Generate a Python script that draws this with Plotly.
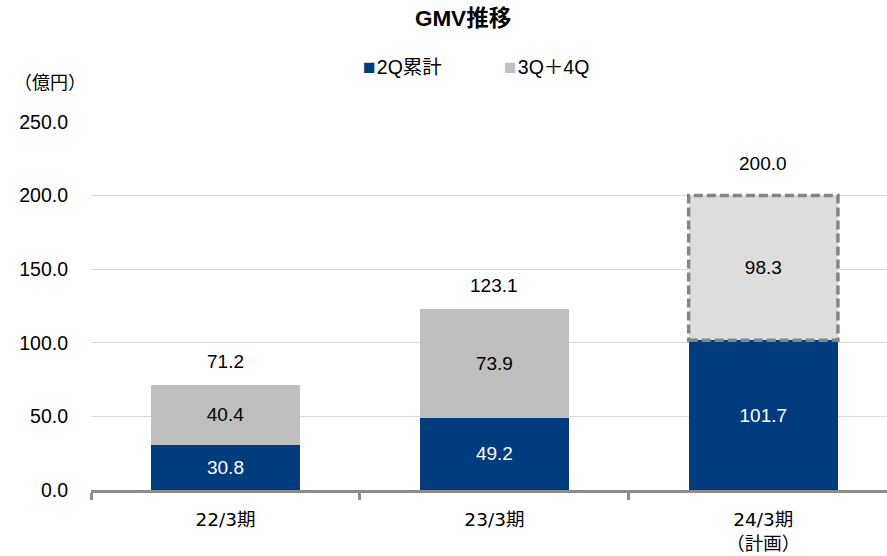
import plotly.graph_objects as go

# GMV by fiscal period (億円)
categories = ["22/3期", "23/3期", "24/3期<br>（計画）"]
first_half = [30.8, 49.2, 101.7]      # 2Q累計
second_half = [40.4, 73.9, 98.3]      # 3Q＋4Q
totals = [71.2, 123.1, 200.0]
y_ticks = [0, 50, 100, 150, 200, 250]
series_names = ["2Q累計", "3Q＋4Q"]

NAVY = "#013C7E"
GRAY = "#BFBFBF"
PLAN_GRAY = "#DDDDDD"
BORDER = "#858585"
FONT = "Liberation Sans, Noto Sans CJK JP, sans-serif"
CAT_FONT = "DejaVu Sans, Noto Sans CJK JP, sans-serif"
BAR_W = 0.555
FS = 19

fig = go.Figure()
fig.add_trace(go.Bar(
    x=categories, y=first_half, name=series_names[0],
    marker=dict(color=NAVY, line=dict(width=0)),
    width=BAR_W, showlegend=False,
    texttemplate="%{y:.1f}", textposition="inside", insidetextanchor="middle",
    textfont=dict(color="white", size=FS, family=FONT),
))
fig.add_trace(go.Bar(
    x=categories, y=second_half, name=series_names[1],
    marker=dict(color=[GRAY, GRAY, PLAN_GRAY], line=dict(width=0)),
    width=BAR_W, showlegend=False,
    texttemplate="%{y:.1f}", textposition="inside", insidetextanchor="middle",
    textfont=dict(color="black", size=FS, family=FONT),
))

# dashed outline around the planned second-half segment
plan = len(categories) - 1
fig.add_shape(
    type="rect", xref="x", yref="y",
    x0=plan - BAR_W / 2, x1=plan + BAR_W / 2,
    y0=first_half[plan], y1=totals[plan],
    line=dict(color=BORDER, width=3.5, dash="9px,4px"),
    fillcolor="rgba(0,0,0,0)", layer="above",
)

# totals above each stack
for i, (c, t) in enumerate(zip(categories, totals)):
    fig.add_annotation(
        x=c, y=t, xref="x", yref="y", text=f"{t:.1f}", showarrow=False,
        yanchor="bottom", yshift=11 if i < plan else 20,
        font=dict(size=FS, color="black", family=FONT),
    )

# unit label
fig.add_annotation(
    x=-0.099, y=1.106, xref="paper", yref="paper", text="（億円）",
    showarrow=False, xanchor="left", yanchor="middle",
    font=dict(size=18, color="black", family=FONT),
)

# legend: colour square followed by series name
legend_items = [(series_names[0], NAVY, 0.339), (series_names[1], GRAY, 0.516)]
for name, color, xpos in legend_items:
    fig.add_annotation(
        x=xpos, y=1.152, xref="paper", yref="paper", showarrow=False,
        xanchor="left", yanchor="middle",
        text=(f"<span style='color:{color};font-size:21px'>■</span>"
              f"<span style='font-size:4px'> </span>{name}"),
        font=dict(size=19.5, color="black", family=FONT),
    )

fig.update_layout(
    width=887, height=556,
    margin=dict(l=91, r=0, t=122, b=66),
    barmode="stack", bargap=0.445,
    paper_bgcolor="white", plot_bgcolor="white",
    font=dict(family=FONT, color="black", size=FS),
    title=dict(text="<b>GMV推移</b>", x=0.522, xref="container", xanchor="center",
               y=0.967, yref="container", yanchor="middle",
               font=dict(size=22.5, color="black", family=FONT)),
    showlegend=False,
)
fig.update_xaxes(
    type="category", range=[-0.5, 2.46],
    showline=True, linecolor="#8C8C8C", linewidth=3,
    ticks="outside", tickson="boundaries", ticklen=7, tickwidth=3, tickcolor="#8C8C8C",
    ticklabelstandoff=11,
    showgrid=False, tickfont=dict(size=18.5, family=CAT_FONT, color="black"),
)
fig.update_yaxes(
    range=[0, 250], tickvals=y_ticks, ticktext=[f"{v:.1f}" for v in y_ticks],
    showgrid=True, gridcolor="#D9D9D9", gridwidth=1.3,
    zeroline=False, showline=False, ticks="", ticklabelstandoff=22,
    tickfont=dict(size=19.5, family=FONT, color="black"),
)

fig.write_html("out.html")
